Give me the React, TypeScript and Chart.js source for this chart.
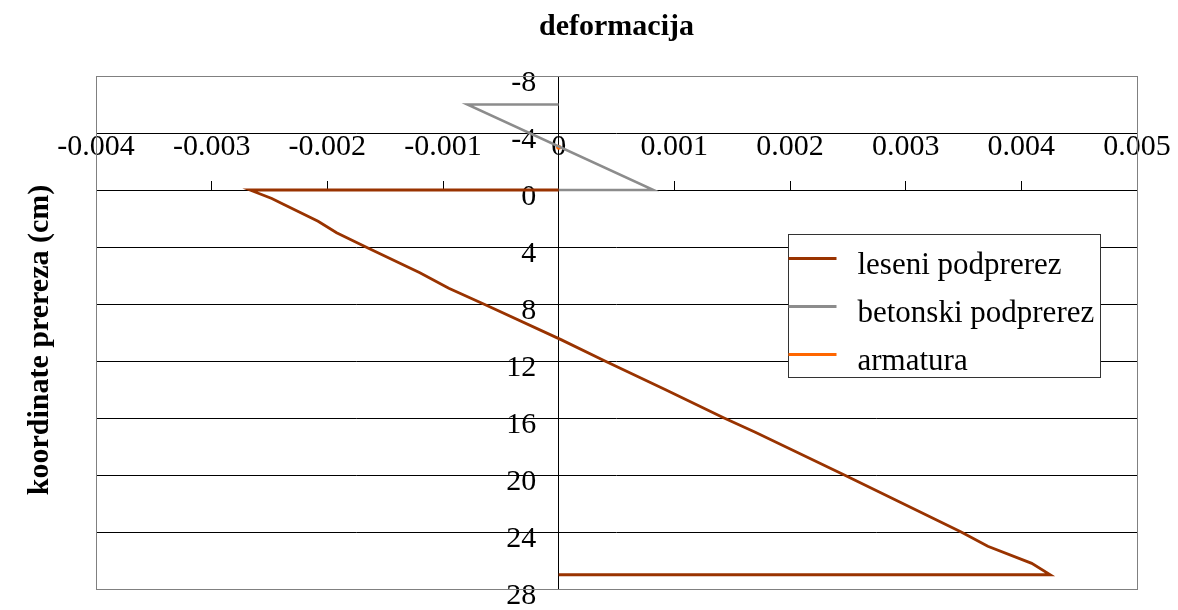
import React, { useEffect, useRef } from 'react';
import { Chart, registerables } from 'chart.js';

Chart.register(...registerables);

// ---- data ----
const chartTitle = 'deformacija';
const yAxisTitle = 'koordinate prereza (cm)  ';

const lesLabel = 'leseni podprerez';
const lesX = [0, -0.00267, -0.00248, -0.00238, -0.00208, -0.00192, -0.00164, -0.0012, -0.00095, -0.00062, 0.00002, 0.0004, 0.00092, 0.00143, 0.0017, 0.00247, 0.00348, 0.00371, 0.00409, 0.00425, 0];
const lesY = [0, 0, 0.6, 1.0, 2.2, 3.0, 4.1, 5.8, 6.9, 8.1, 10.5, 12, 14, 16, 17, 20, 24, 25, 26.2, 27, 27];

const betLabel = 'betonski podprerez';
const betX = [0, -0.00079, 0.00082, 0];
const betY = [-6, -6, 0, 0];

const armLabel = 'armatura';
const armX = [0];
const armY = [-3];

const xMin = -0.004;
const xMax = 0.005;
const xStep = 0.001;
const yMin = -8;
const yMax = 28;
const yStep = 4;

const SERIF = "'Times New Roman', 'Liberation Serif', serif";

const toPts = (xs: number[], ys: number[]) => xs.map((x, i) => ({ x, y: ys[i] }));

const fmtX = (v: number) => {
  const r = Math.round(v * 1000) / 1000;
  if (r === 0) return '0';
  return r.toFixed(3);
};

export default function App() {
  const ref = useRef<HTMLCanvasElement>(null);

  useEffect(() => {
    if (!ref.current) return;

    const framePlugin = {
      id: 'frame',
      beforeDatasetsDraw(chart: any) {
        const { ctx, chartArea: a } = chart;
        ctx.save();
        ctx.strokeStyle = '#808080';
        ctx.lineWidth = 1;
        ctx.strokeRect(Math.round(a.left) + 0.5, Math.round(a.top) + 0.5, Math.round(a.right - a.left), Math.round(a.bottom - a.top));
        ctx.restore();
      },
    };

    const legendPlugin = {
      id: 'boxLegend',
      afterDraw(chart: any) {
        const { ctx, chartArea: a } = chart;
        const left = Math.round(a.left + 692) + 0.5;
        const top = Math.round(a.top + 158) + 0.5;
        const w = 312;
        const h = 143;
        ctx.save();
        ctx.fillStyle = '#ffffff';
        ctx.fillRect(left, top, w, h);
        ctx.strokeStyle = '#333';
        ctx.lineWidth = 1;
        ctx.strokeRect(left, top, w, h);
        chart.data.datasets.forEach((ds: any, i: number) => {
          const y = top + 24 + i * 48;
          ctx.strokeStyle = ds.borderColor;
          ctx.lineWidth = 3;
          ctx.beginPath();
          ctx.moveTo(left, y);
          ctx.lineTo(left + 48, y);
          ctx.stroke();
          ctx.fillStyle = '#000';
          ctx.font = `31px ${SERIF}`;
          ctx.textBaseline = 'alphabetic';
          ctx.textAlign = 'left';
          ctx.fillText(ds.label, left + 69, y + 15);
        });
        ctx.restore();
      },
    };

    const chart = new Chart(ref.current, {
      type: 'scatter',
      data: {
        datasets: [
          {
            label: lesLabel,
            data: toPts(lesX, lesY),
            showLine: true,
            borderColor: '#993300',
            backgroundColor: '#993300',
            borderWidth: 2.8,
            pointRadius: 0,
            tension: 0,
          },
          {
            label: betLabel,
            data: toPts(betX, betY),
            showLine: true,
            borderColor: '#8c8c8c',
            backgroundColor: '#8c8c8c',
            borderWidth: 2.5,
            pointRadius: 0,
            tension: 0,
          },
          {
            label: armLabel,
            data: toPts(armX, armY),
            showLine: true,
            borderColor: '#FF6600',
            backgroundColor: '#FF6600',
            borderWidth: 2.5,
            pointRadius: 2.5,
            pointBorderWidth: 0,
          },
        ],
      },
      options: {
        responsive: false,
        animation: false,
        events: [],
        layout: { padding: { left: 0, right: 41, top: 0, bottom: 20 } },
        plugins: {
          legend: { display: false },
          tooltip: { enabled: false },
          title: {
            display: true,
            fullSize: false,
            text: chartTitle,
            color: '#000',
            font: { family: SERIF, size: 30, weight: 'bold' },
            padding: { top: 9, bottom: 31 },
          },
        },
        scales: {
          x: {
            type: 'linear',
            min: xMin,
            max: xMax,
            position: { y: 0 } as any,
            grid: { drawOnChartArea: false, drawTicks: true, tickLength: -10, color: '#000' },
            border: { color: '#000', width: 1 },
            ticks: {
              stepSize: xStep,
              padding: -51,
              color: '#000',
              font: { family: SERIF, size: 30 },
              maxRotation: 0,
              autoSkip: false,
              callback: (v: any) => fmtX(Number(v)),
            },
          },
          y: {
            type: 'linear',
            reverse: true,
            min: yMin,
            max: yMax,
            position: { x: 0 } as any,
            grid: {
              color: (c: any) => (c.tick && (c.tick.value === yMin || c.tick.value === yMax) ? '#808080' : '#000'),
              tickColor: '#000',
              tickLength: 9,
              drawTicks: true,
            },
            border: { color: '#000', width: 1 },
            ticks: {
              stepSize: yStep,
              labelOffset: 7,
              color: '#000',
              font: { family: SERIF, size: 30 },
              callback: (v: any) => String(v) + '   ',
            },
          },
          yTitle: {
            type: 'linear',
            position: 'left',
            display: true,
            grid: { display: false },
            border: { display: false },
            ticks: { display: false },
            title: {
              display: true,
              text: yAxisTitle,
              color: '#000',
              font: { family: SERIF, size: 30, weight: 'bold' },
              padding: { top: 22, bottom: 30 },
            },
          },
        },
      } as any,
      plugins: [framePlugin, legendPlugin],
    });

    return () => chart.destroy();
  }, []);

  return (
    <div style={{ position: 'fixed', left: 0, top: 0, width: 1178, height: 610, background: '#fff' }}>
      <canvas ref={ref} width={1178} height={610} style={{ display: 'block' }} />
    </div>
  );
}
